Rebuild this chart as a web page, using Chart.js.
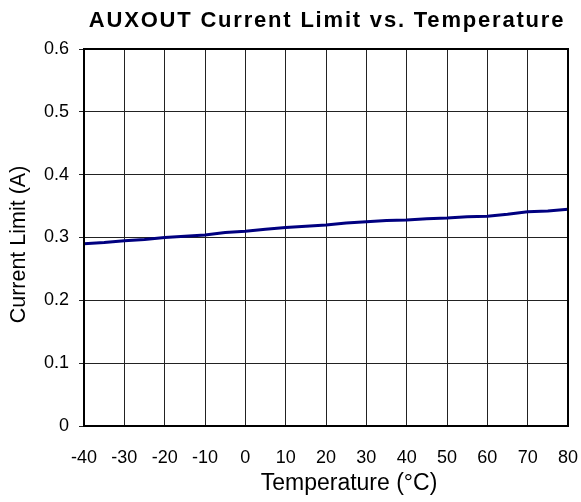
<!DOCTYPE html>
<html>
<head>
<meta charset="utf-8">
<script src="https://cdn.jsdelivr.net/npm/chart.js@4"></script>
<style>
  html, body { margin: 0; padding: 0; background: #fff; }
  canvas { display: block; }
</style>
</head>
<body>
<canvas id="grafico" width="581" height="502"></canvas>
<script>
// temperatura (°C) e corrente limite (A)
const temperaturas = [-40, -35, -30, -25, -20, -15, -10, -5, 0, 5, 10, 15, 20, 25, 30, 35, 40, 45, 50, 55, 60, 65, 70, 75, 80];
const correntes = [0.290, 0.292, 0.295, 0.297, 0.300, 0.302, 0.304, 0.308, 0.310, 0.313, 0.316, 0.318, 0.320, 0.323, 0.325, 0.327, 0.328, 0.330, 0.331, 0.333, 0.334, 0.337, 0.341, 0.342, 0.345];
const tituloGrafico = "AUXOUT Current Limit vs. Temperature";
const tituloX = "Temperature (\u00B0C)";
const tituloY = "Current Limit (A)";

const fonte = "'Liberation Sans', Arial, sans-serif";

// moldura em volta da area do grafico + titulos (posicionados como no original)
const moldura = {
    id: "moldura",
    afterDraw(chart) {
        const { ctx, chartArea: a } = chart;
        ctx.save();
        ctx.strokeStyle = "#000";
        ctx.lineWidth = 2;
        ctx.strokeRect(a.left, a.top, a.right - a.left, a.bottom - a.top);

        ctx.fillStyle = "#000";
        ctx.textAlign = "center";
        ctx.textBaseline = "alphabetic";

        ctx.font = "bold 22px " + fonte;
        ctx.letterSpacing = "1.8px";
        ctx.fillText(tituloGrafico, (a.left + a.right) / 2 + 1, 27);
        ctx.letterSpacing = "0px";

        ctx.font = "23px " + fonte;
        ctx.fillText(tituloX, (a.left + a.right) / 2 + 23, 490);

        ctx.font = "21.5px " + fonte;
        ctx.translate(25, (a.top + a.bottom) / 2 + 7);
        ctx.rotate(-Math.PI / 2);
        ctx.fillText(tituloY, 0, 0);
        ctx.restore();
    }
};

const ctx = document.getElementById("grafico").getContext("2d");
window.grafico = new Chart(ctx, {
    type: "line",
    data: {
        datasets: [{
            data: temperaturas.map((t, i) => ({ x: t, y: correntes[i] })),
            borderColor: "#000080",
            borderWidth: 3,
            pointRadius: 0,
            fill: false,
            tension: 0
        }]
    },
    options: {
        responsive: false,
        animation: false,
        layout: { padding: { left: 0, right: 13, top: 49, bottom: 0 } },
        plugins: {
            legend: { display: false },
            tooltip: { enabled: false },
            title: { display: false }
        },
        scales: {
            x: {
                type: "linear",
                min: -40,
                max: 80,
                afterFit(scale) {
                    scale.height = 76;
                    scale.paddingLeft = 0;
                    scale.paddingRight = 0;
                },
                ticks: { stepSize: 10, color: "#000", font: { family: fonte, size: 18 }, padding: 21 },
                grid: { color: "#222", lineWidth: 1, drawTicks: false },
                border: { color: "#000", width: 2 },
                title: { display: false, text: tituloX }
            },
            y: {
                min: 0,
                max: 0.6,
                afterFit(scale) { scale.width = 84; },
                ticks: { stepSize: 0.1, color: "#000", font: { family: fonte, size: 18 }, padding: 10,
                    callback: v => (Math.round(v * 10) / 10).toString() },
                grid: { color: "#222", lineWidth: 1, tickLength: 5 },
                border: { color: "#000", width: 2 },
                title: { display: false, text: tituloY }
            }
        }
    },
    plugins: [moldura]
});
</script>
</body>
</html>
